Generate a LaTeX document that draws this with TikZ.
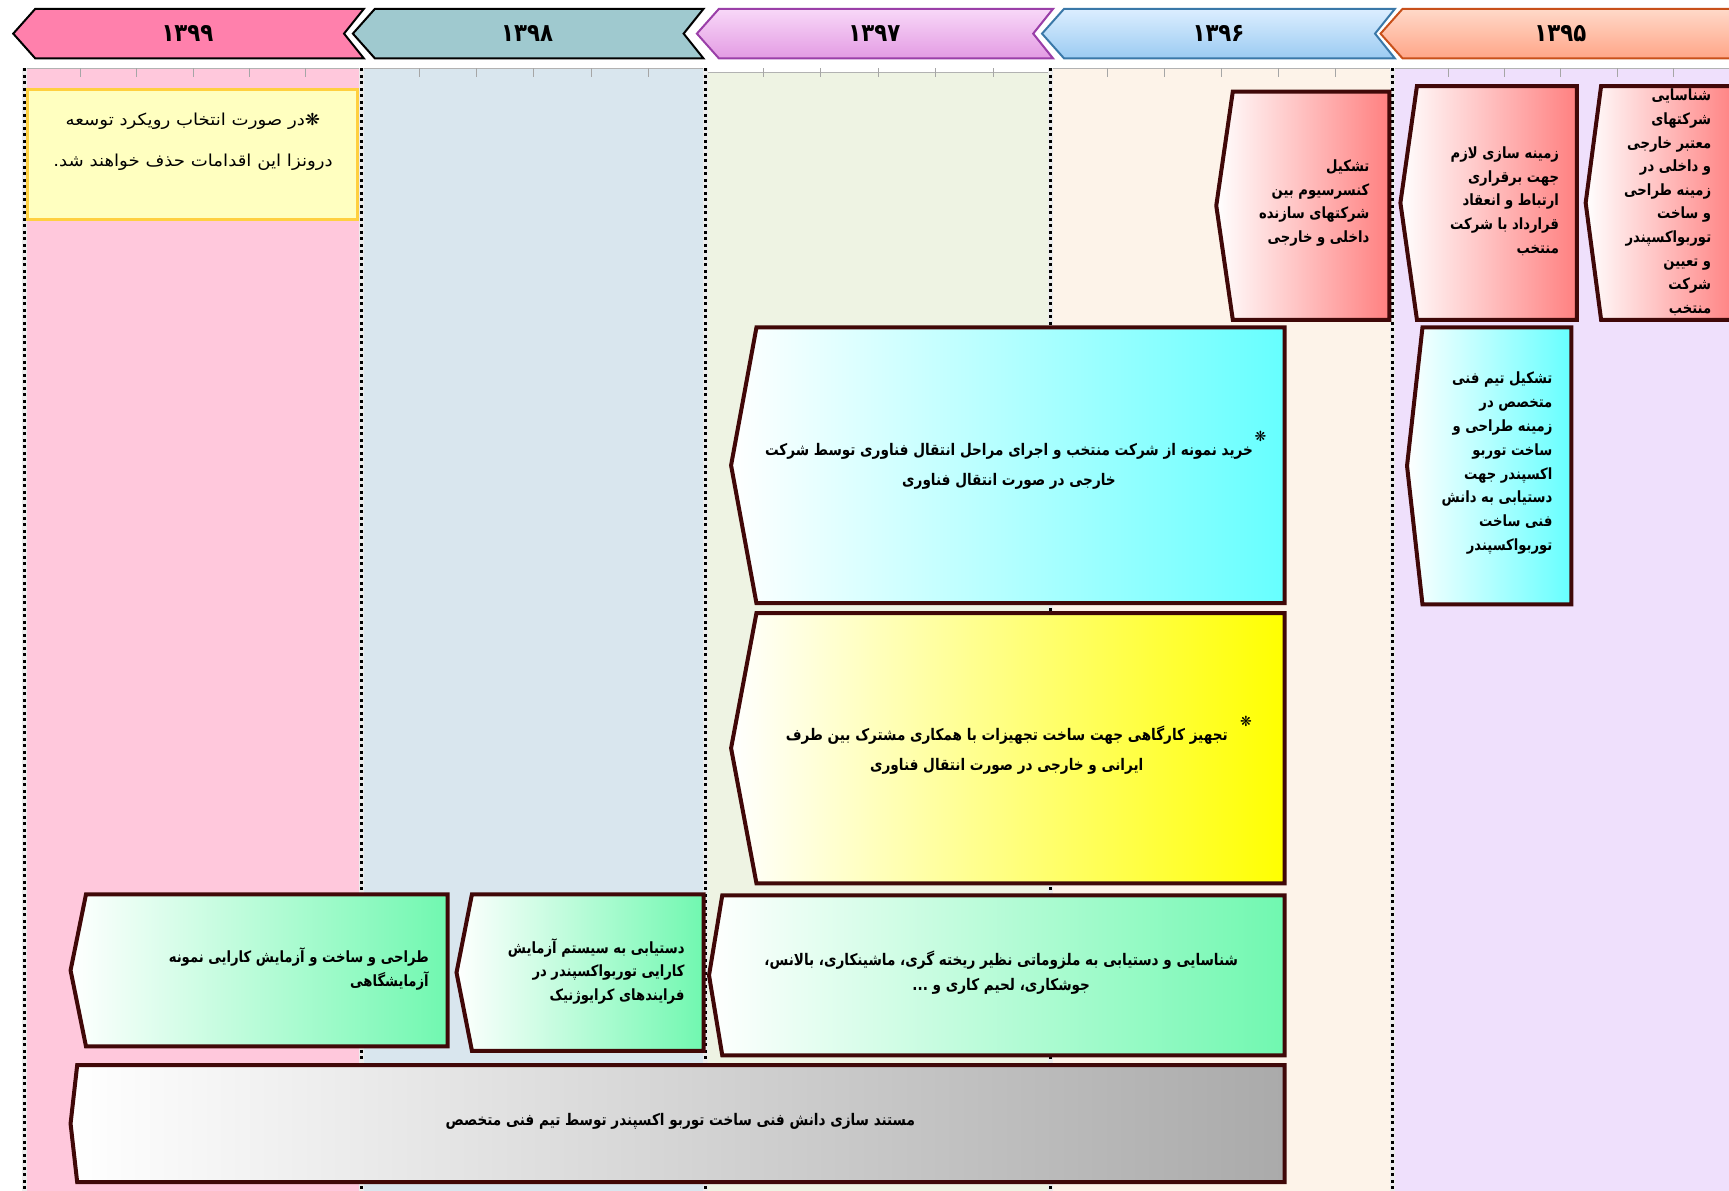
\documentclass[tikz,border=0pt]{standalone}
\usepackage{fontspec}
\TeXXeTstate=1
\newfontfamily\fa[Script=Arabic]{DejaVu Sans}
\newfontfamily\fan[Script=Arabic,FakeStretch=0.85]{DejaVu Sans}
\newfontfamily\faw[Script=Arabic,FakeStretch=1.1]{DejaVu Sans}
\newcommand\rl[1]{\beginR #1\endR}
\definecolor{edge}{HTML}{400808}
\definecolor{cpink}{HTML}{FFC8DC}
\definecolor{cblue}{HTML}{D9E6EE}
\definecolor{cgreen}{HTML}{EEF3E3}
\definecolor{ccream}{HTML}{FDF3E9}
\definecolor{clav}{HTML}{EFE0FC}
\definecolor{bred}{HTML}{FF8080}
\definecolor{bcyan}{HTML}{66FFFF}
\definecolor{byel}{HTML}{FFFF00}
\definecolor{bgreen}{HTML}{70F8B0}
\definecolor{bgray}{HTML}{AAAAAA}
\tikzset{
 edgeline/.style={draw=edge,line width=4pt,line join=miter},
 yearlbl/.style={font=\fan\bfseries\fontsize{25}{25}\selectfont, text=black, inner sep=0pt},
 lbl/.style={font=\fan\bfseries\fontsize{15.5}{23.6}\selectfont, align=right, inner sep=0pt},
 lblc/.style={font=\fan\bfseries\fontsize{16}{29.8}\selectfont, align=center, inner sep=0pt},
 star/.style={font=\fa\bfseries\fontsize{14}{14}\selectfont, inner sep=0pt},
 dotline/.style={line width=3pt, dash pattern=on 3pt off 3.5pt},
 dotbg/.style={line width=5pt, draw=white!85!gray},
 tickmark/.style={draw=gray!70,line width=0.8pt},
 hdr/.style={line width=2pt, line join=miter}
}
\newcommand\pbox[6]{%
 \shade[left color=white,right color=#6] (#1,{(#4+#5)/2}) -- (#2,#4) -- (#3,#4) -- (#3,#5) -- (#2,#5) -- cycle;
 \draw[edgeline] (#1,{(#4+#5)/2}) -- (#2,#4) -- (#3,#4) -- (#3,#5) -- (#2,#5) -- cycle;}
\newcommand\chev[3]{% tip, right, extra options
 \shadedraw[hdr,#3] (#1,30.5) -- (#1+20,8) -- (#2,8) -- (#2-18,30.5) -- (#2,53) -- (#1+20,53) -- cycle;}
\begin{document}
\begin{tikzpicture}[x=1.1027pt,y=-1.1027pt]
\useasboundingbox (0,0) rectangle (1568,1080);
\fill[white] (0,0) rectangle (1568,1080);
% columns
\fill[cpink] (22,62) rectangle (328,1080);
\fill[cblue] (328,62) rectangle (640,1080);
\fill[cgreen] (640,66) rectangle (953,1080);
\fill[ccream] (953,62) rectangle (1263,1080);
\fill[clav] (1263,62) rectangle (1568,1080);
\draw[gray!60,line width=0.6pt] (22,62) -- (640,62) (640,66) -- (953,66) (953,62) -- (1568,62);
\foreach \a/\b in {22/328,328/640,640/953,953/1263,1263/1568}{
  \foreach \k in {1,...,5}{
    \draw[tickmark] ({\a+\k*(\b-\a)/6},62) -- ({\a+\k*(\b-\a)/6},70);
  }
}
\foreach \x in {22,328,640,953,1263}{\draw[dotbg] (\x,62) -- (\x,1080); \draw[dotline] (\x,62) -- (\x,1080);}
% headers
\chev{12}{330}{draw=black,top color={rgb,255:red,255;green,128;blue,172},bottom color={rgb,255:red,255;green,128;blue,172}}
\chev{320}{638}{draw=black,top color={rgb,255:red,159;green,201;blue,207},bottom color={rgb,255:red,159;green,201;blue,207}}
\chev{632}{955}{draw={rgb,255:red,154;green,63;blue,168},top color={rgb,255:red,248;green,216;blue,248},bottom color={rgb,255:red,227;green,155;blue,227}}
\chev{945}{1265}{draw={rgb,255:red,58;green,120;blue,168},top color={rgb,255:red,220;green,238;blue,255},bottom color={rgb,255:red,155;green,203;blue,242}}
\chev{1252}{1590}{draw={rgb,255:red,200;green,80;blue,26},top color={rgb,255:red,255;green,217;blue,201},bottom color={rgb,255:red,255;green,165;blue,135}}
\node[yearlbl] (y1399) at (170,30) {۱۳۹۹};
\node[yearlbl] (y1398) at (478,30) {۱۳۹۸};
\node[yearlbl] (y1397) at (793,30) {۱۳۹۷};
\node[yearlbl] (y1396) at (1105,30) {۱۳۹۶};
\node[yearlbl] (y1395) at (1415,30) {۱۳۹۵};
% note
\filldraw[fill={rgb,255:red,255;green,255;blue,192},draw={rgb,255:red,255;green,208;blue,64},line width=3pt] (25,81) rectangle (324,199);
\node[font=\faw\fontsize{16.5}{41}\selectfont,align=center,inner sep=0pt] (note) at (175,129)
 {\rl{❋در صورت انتخاب رویکرد توسعه}\\\rl{درونزا این اقدامات حذف خواهند شد.}};
% boxes
\pbox{1103}{1118}{1260}{83}{290}{bred}
\node[lbl,anchor=east] (b2) at (1242,184) {\rl{تشکیل}\\\rl{کنسرسیوم بین}\\\rl{شرکتهای سازنده}\\\rl{داخلی و خارجی}};
\pbox{1270}{1285}{1430}{78}{290}{bred}
\node[lbl,anchor=east] (b3) at (1414,182.5) {\rl{زمینه سازی لازم}\\\rl{جهت برقراری}\\\rl{ارتباط و انعقاد}\\\rl{قرارداد با شرکت}\\\rl{منتخب}};
\pbox{1438}{1452}{1575}{78}{290}{bred}
\node[lbl,anchor=east] (b4) at (1552,183.5) {\rl{شناسایی}\\\rl{شرکتهای}\\\rl{معتبر خارجی}\\\rl{و داخلی در}\\\rl{زمینه طراحی}\\\rl{و ساخت}\\\rl{توربواکسپندر}\\\rl{و تعیین}\\\rl{شرکت}\\\rl{منتخب}};
\pbox{1276}{1290}{1425}{297}{548}{bcyan}
\node[lbl,anchor=east,font=\fan\bfseries\fontsize{15.5}{23.8}\selectfont] (b5) at (1408,420) {\rl{تشکیل تیم فنی}\\\rl{متخصص در}\\\rl{زمینه طراحی و}\\\rl{ساخت توربو}\\\rl{اکسپندر جهت}\\\rl{دستیابی به دانش}\\\rl{فنی ساخت}\\\rl{توربواکسپندر}};
\pbox{663}{686}{1165}{297}{547}{bcyan}
\node[lblc] (b6) at (915,423) {\rl{خرید نمونه از شرکت منتخب و اجرای مراحل انتقال فناوری توسط شرکت}\\\rl{خارجی در صورت انتقال فناوری}};
\node[star] (s6) at (1143,396) {❋};
\pbox{663}{686}{1165}{556}{801}{byel}
\node[lblc] (b7) at (913,680) {\rl{تجهیز کارگاهی جهت ساخت تجهیزات با همکاری مشترک بین طرف}\\\rl{ایرانی و خارجی در صورت انتقال فناوری}};
\node[star] (s7) at (1130,654) {❋};
\pbox{643}{655}{1165}{812}{957}{bgreen}
\node[lblc,font=\fan\bfseries\fontsize{16}{25.4}\selectfont] (b8) at (908,882) {\rl{شناسایی و دستیابی به ملزوماتی نظیر ریخته گری، ماشینکاری، بالانس،}\\\rl{جوشکاری، لحیم کاری و ...}};
\pbox{414}{428}{638}{811}{953}{bgreen}
\node[lbl,anchor=east] (b9) at (621,881) {\rl{دستیابی به سیستم آزمایش}\\\rl{کارایی توربواکسپندر در}\\\rl{فرایندهای کرایوژنیک}};
\pbox{64}{78}{406}{811}{949}{bgreen}
\node[lbl,anchor=east] (b10) at (389,879) {\rl{طراحی و ساخت و آزمایش کارایی نمونه}\\\rl{آزمایشگاهی}};
\pbox{64}{70}{1165}{966}{1072}{bgray}
\node[font=\fan\bfseries\fontsize{16}{16}\selectfont,inner sep=0pt] (b11) at (617,1017) {\rl{مستند سازی دانش فنی ساخت توربو اکسپندر توسط تیم فنی متخصص}};
\end{tikzpicture}
\end{document}
